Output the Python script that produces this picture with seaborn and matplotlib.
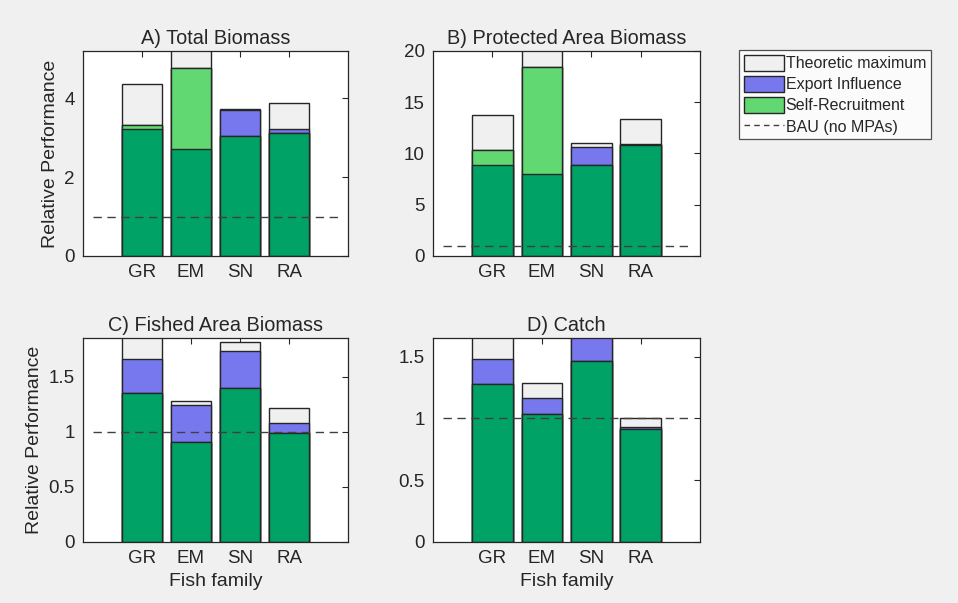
import matplotlib
matplotlib.use('Agg')
import matplotlib.pyplot as plt
import seaborn as sns
import pandas as pd
from matplotlib.patches import Patch
from matplotlib.lines import Line2D

# fish families
families = ['GR', 'EM', 'SN', 'RA']

# stacked levels (top of each layer, cumulative)
# A) Total Biomass
a_base = [3.21, 2.72, 3.04, 3.13]
a_self = [3.31, 4.76, 3.04, 3.13]
a_export = [3.31, 4.76, 3.70, 3.21]
a_max = [4.37, 5.50, 3.74, 3.87]

# B) Protected Area Biomass
b_base = [8.84, 7.96, 8.91, 10.85]
b_self = [10.35, 18.4, 8.91, 10.85]
b_export = [10.35, 18.4, 10.67, 10.9]
b_max = [13.8, 21.0, 11.0, 13.4]

# C) Fished Area Biomass
c_base = [1.35, 0.904, 1.397, 0.992]
c_self = [1.35, 0.904, 1.397, 0.992]
c_export = [1.66, 1.246, 1.73, 1.08]
c_max = [1.90, 1.276, 1.81, 1.216]

# D) Catch
d_base = [1.274, 1.034, 1.462, 0.913]
d_self = [1.274, 1.034, 1.462, 0.913]
d_export = [1.479, 1.163, 1.68, 0.932]
d_max = [1.70, 1.285, 1.72, 1.002]

titles = ['A) Total Biomass', 'B) Protected Area Biomass',
          'C) Fished Area Biomass', 'D) Catch']
ylims = [5.2, 20, 1.85, 1.65]
yticks = [[0, 2, 4], [0, 5, 10, 15, 20], [0, 0.5, 1, 1.5], [0, 0.5, 1, 1.5]]
yticklabels = [['0', '2', '4'], ['0', '5', '10', '15', '20'],
               ['0', '0.5', '1', '1.5'], ['0', '0.5', '1', '1.5']]
bau = 1.0

panels = [
    (a_base, a_self, a_export, a_max),
    (b_base, b_self, b_export, b_max),
    (c_base, c_self, c_export, c_max),
    (d_base, d_self, d_export, d_max),
]

col_max = '#f0f0f0'
col_export = '#7878ee'
col_self = '#62d872'
col_base = '#00a266'
edge = '#262626'
txt = '#262626'

sns.set_style('white')
plt.rcParams['font.family'] = ['Liberation Sans', 'DejaVu Sans']
plt.rcParams['text.color'] = txt
plt.rcParams['axes.labelcolor'] = txt
plt.rcParams['xtick.color'] = txt
plt.rcParams['ytick.color'] = txt

fig = plt.figure(figsize=(9.58, 6.03), dpi=100)
fig.patch.set_facecolor('#f0f0f0')

positions = [
    [0.0866, 0.5755, 0.2766, 0.340],
    [0.452, 0.5755, 0.2787, 0.340],
    [0.0866, 0.1012, 0.2766, 0.3383],
    [0.452, 0.1012, 0.2787, 0.3383],
]

for i, (base, selfr, export, mx) in enumerate(panels):
    ax = fig.add_axes(positions[i])
    ax.set_facecolor('white')
    df = pd.DataFrame({'family': families, 'base': base, 'self': selfr,
                       'export': export, 'max': mx})
    for col, c in [('max', col_max), ('export', col_export),
                   ('self', col_self), ('base', col_base)]:
        sns.barplot(data=df, x='family', y=col, color=c, width=0.82,
                    edgecolor=edge, linewidth=1.0, saturation=1, ax=ax)
    ax.plot([-1, 4], [bau, bau], ls=(0, (6, 4)), color='#404040', lw=1.0,
            zorder=5)
    ax.set_xlim(-1.2, 4.2)
    ax.set_ylim(0, ylims[i])
    ax.set_yticks(yticks[i])
    ax.set_yticklabels(yticklabels[i])
    ax.set_title(titles[i], fontsize=14.3, pad=5)
    ax.tick_params(direction='in', top=True, right=True, length=4,
                   width=0.8, labelsize=13.5, pad=6)
    for s in ax.spines.values():
        s.set_color(edge)
        s.set_linewidth(0.9)
    ax.set_ylabel('Relative Performance' if i in (0, 2) else '', fontsize=14)
    ax.set_xlabel('Fish family' if i in (2, 3) else '', fontsize=14)

handles = [
    Patch(facecolor=col_max, edgecolor=edge, linewidth=1.0),
    Patch(facecolor=col_export, edgecolor=edge, linewidth=1.0),
    Patch(facecolor=col_self, edgecolor=edge, linewidth=1.0),
    Line2D([0], [0], ls=(0, (4, 3)), color='#404040', lw=1.0),
]
labels = ['Theoretic maximum', 'Export Influence', 'Self-Recruitment',
          'BAU (no MPAs)']
leg = fig.legend(handles, labels, loc='upper left',
                 bbox_to_anchor=(739 / 958, 1 - 50 / 603), fontsize=11.5,
                 frameon=True, fancybox=False, handlelength=2.5,
                 handleheight=1.15, handletextpad=0.12, borderpad=0.3,
                 labelspacing=0.3, borderaxespad=0)
leg.get_frame().set_edgecolor(edge)
leg.get_frame().set_linewidth(0.9)
leg.get_frame().set_facecolor('white')

fig.savefig('out.png', dpi=100, facecolor=fig.get_facecolor())
